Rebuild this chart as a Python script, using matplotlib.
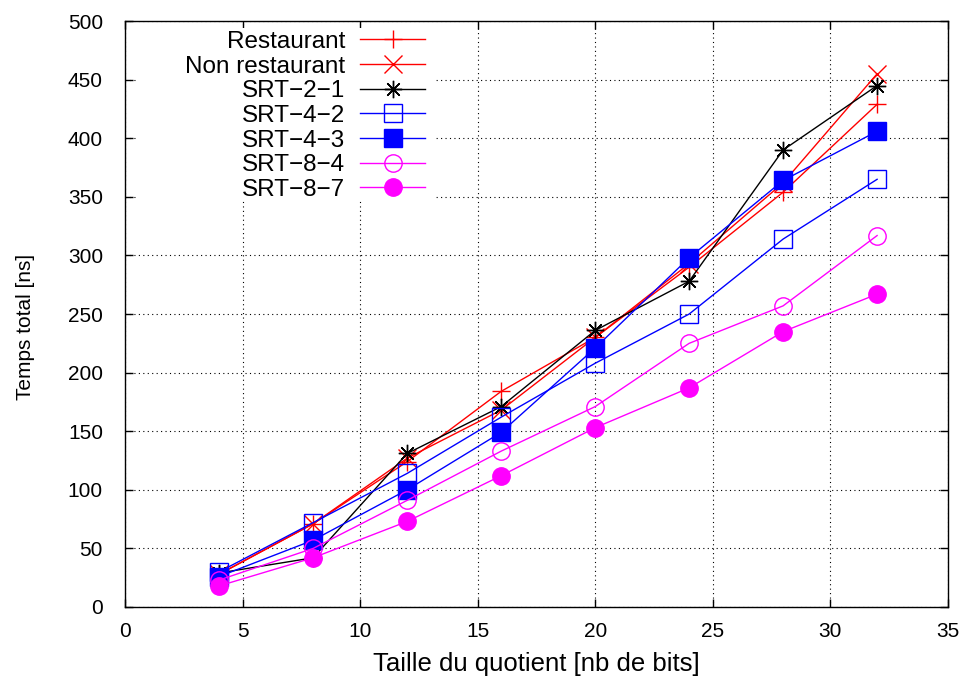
import matplotlib
matplotlib.use("Agg")
import matplotlib.pyplot as plt
from matplotlib.patches import Rectangle

plt.rcParams['font.family'] = ['Liberation Sans', 'DejaVu Sans']

x_bits = [4, 8, 12, 16, 20, 24, 28, 32]
restaurant = [28, 71, 124, 184, 230, 290, 354, 429]
non_restaurant = [28, 71, 127, 168, 230, 293, 362, 455]
srt_2_1 = [29, 42, 131, 171, 236, 278, 390, 445]
srt_4_2 = [30, 72, 114, 162, 208, 250, 314, 365]
srt_4_3 = [26, 57, 100, 149, 221, 298, 364, 406]
srt_8_4 = [23, 50, 91, 133, 171, 225, 257, 317]
srt_8_7 = [18, 42, 73, 112, 153, 187, 235, 267]

labels = ["Restaurant", "Non restaurant", "SRT\u22122\u22121", "SRT\u22124\u22122",
          "SRT\u22124\u22123", "SRT\u22128\u22124", "SRT\u22128\u22127"]

fig = plt.figure(figsize=(9.63, 6.82), dpi=100)
ax = fig.add_axes([0.130, 0.110, 0.854, 0.859])

lw = 1.0
ms = 12.5
ax.plot(x_bits, restaurant, color='#ff0000', lw=lw, marker='+', ms=ms, mew=1.0, label=labels[0])
ax.plot(x_bits, non_restaurant, color='#ff0000', lw=lw, marker='x', ms=ms, mew=1.0, label=labels[1])
ax.plot(x_bits, srt_2_1, color='black', lw=lw, marker=(8, 2, 0), ms=ms, mew=1.0, label=labels[2])
ax.plot(x_bits, srt_4_2, color='#0000ff', lw=lw, marker='s', ms=ms, mew=1.0,
        mfc='none', label=labels[3])
ax.plot(x_bits, srt_4_3, color='#0000ff', lw=lw, marker='s', ms=ms, mew=1.0, label=labels[4])
ax.plot(x_bits, srt_8_4, color='#ff00ff', lw=lw, marker='o', ms=ms, mew=1.0,
        mfc='none', label=labels[5])
ax.plot(x_bits, srt_8_7, color='#ff00ff', lw=lw, marker='o', ms=ms, mew=1.0, label=labels[6])

ax.set_xlim(0, 35)
ax.set_ylim(0, 500)
ax.set_xticks(range(0, 36, 5))
ax.set_yticks(range(0, 501, 50))
ax.grid(True, color='black', linestyle=(0, (1, 3)), linewidth=0.8)
ax.set_axisbelow(True)
ax.tick_params(direction='in', top=True, right=True, length=6, labelsize=15, width=1)
ax.tick_params(axis='x', pad=11)
ax.tick_params(axis='y', pad=16)
for s in ax.spines.values():
    s.set_linewidth(1.0)

# white key background covering the grid (as in the gnuplot key)
ax.add_patch(Rectangle((0.0146, 0.695), 0.362, 0.293, transform=ax.transAxes,
                       facecolor='white', edgecolor='none', zorder=1.5))

ax.set_xlabel("Taille du quotient [nb de bits]", fontsize=18.5, labelpad=8)
ax.set_ylabel("Temps total [ns]", fontsize=15)
ax.yaxis.set_label_coords(-0.110, 0.478)

leg = ax.legend(loc='upper left', bbox_to_anchor=(0.061, 1.0), markerfirst=False,
                frameon=False, fontsize=17.5, handlelength=2.7, labelspacing=0.11,
                borderaxespad=0.0, borderpad=0.4, handletextpad=0.6)
for t in leg.get_texts():
    t.set_ha('right')
leg._legend_box.align = "right"

fig.savefig("out.png", dpi=100)
